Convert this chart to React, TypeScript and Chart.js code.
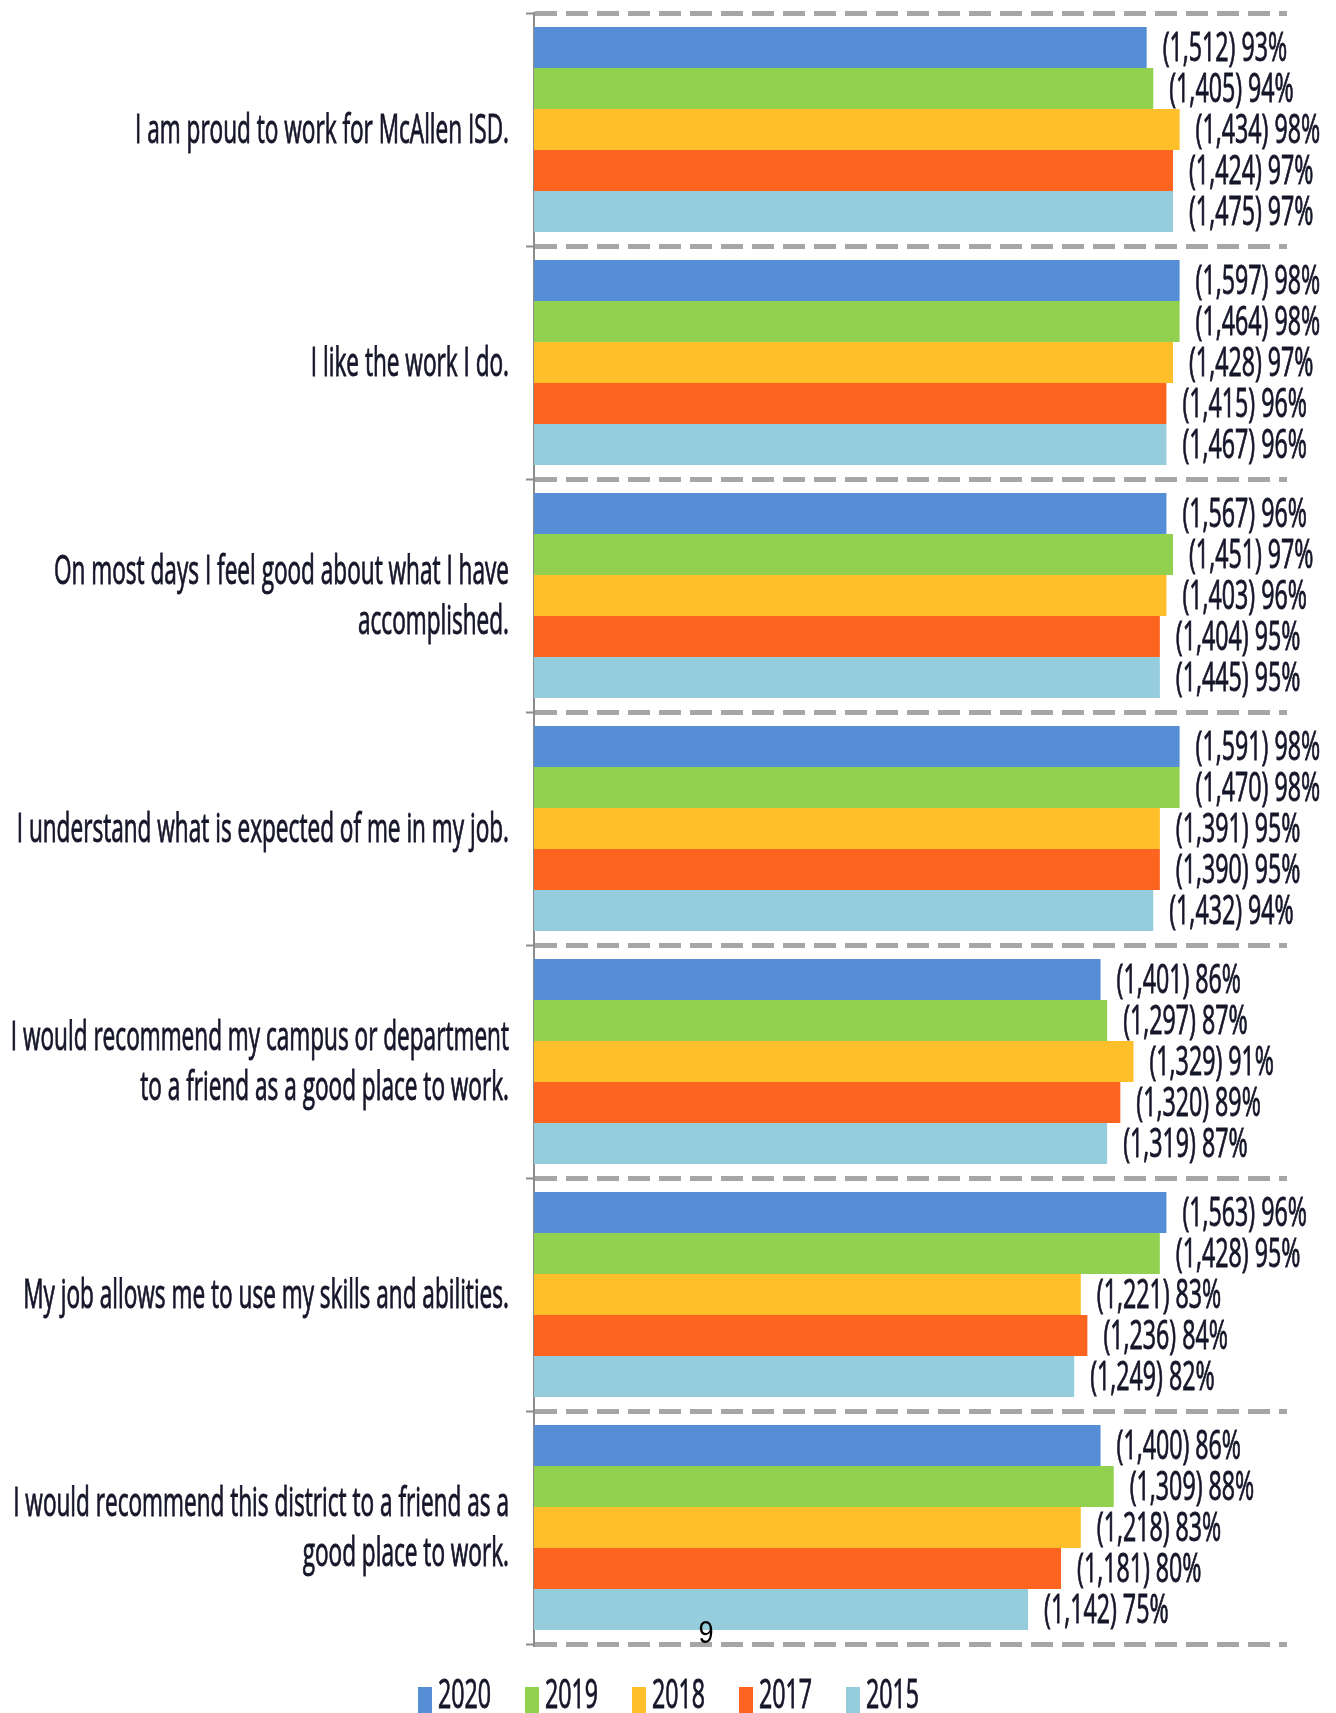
import React, { useEffect, useRef } from "react";
import { Chart, registerables } from "chart.js";
Chart.register(...registerables);

const categories: string[][] = [
  ["I am proud to work for McAllen ISD."],
  ["I like the work I do."],
  ["On most days I feel good about what I have", "accomplished."],
  ["I understand what is expected of me in my job."],
  ["I would recommend my campus or department", "to a friend as a good place to work."],
  ["My job allows me to use my skills and abilities."],
  ["I would recommend this district to a friend as a", "good place to work."],
];
const years = ["2020", "2019", "2018", "2017", "2015"];
const colors = ["#558ED5", "#92D050", "#FFBF2A", "#FD6420", "#95CDDC"];

const pct2020 = [93, 98, 96, 98, 86, 96, 86];
const n2020 = [1512, 1597, 1567, 1591, 1401, 1563, 1400];
const pct2019 = [94, 98, 97, 98, 87, 95, 88];
const n2019 = [1405, 1464, 1451, 1470, 1297, 1428, 1309];
const pct2018 = [98, 97, 96, 95, 91, 83, 83];
const n2018 = [1434, 1428, 1403, 1391, 1329, 1221, 1218];
const pct2017 = [97, 96, 95, 95, 89, 84, 80];
const n2017 = [1424, 1415, 1404, 1390, 1320, 1236, 1181];
const pct2015 = [97, 96, 95, 94, 87, 82, 75];
const n2015 = [1475, 1467, 1445, 1432, 1319, 1249, 1142];

const pctSeries = [pct2020, pct2019, pct2018, pct2017, pct2015];
const countSeries = [n2020, n2019, n2018, n2017, n2015];

const FONT = "40px 'Open Sans'";
const SX = 0.58;
const SX_CAT = 0.565;
const TEXT_COLOR = "#16162a";

function drawCondensed(ctx: CanvasRenderingContext2D, text: string, x: number, y: number, align: CanvasTextAlign, sx = SX, stroke = true) {
  ctx.save();
  ctx.translate(x, y);
  ctx.scale(sx, 1);
  ctx.textAlign = align;
  ctx.textBaseline = "middle";
  ctx.fillText(text, 0, 0);
  if (stroke) {
    ctx.strokeStyle = ctx.fillStyle as string;
    ctx.lineWidth = 0.9;
    ctx.strokeText(text, 0, 0);
  }
  ctx.restore();
}

const textPlugin = {
  id: "textPlugin",
  afterDatasetsDraw(chart: any) {
    const ctx: CanvasRenderingContext2D = chart.ctx;
    ctx.save();
    ctx.font = FONT;
    ctx.fillStyle = TEXT_COLOR;
    chart.data.datasets.forEach((ds: any, di: number) => {
      const meta = chart.getDatasetMeta(di);
      meta.data.forEach((el: any, i: number) => {
        const n = countSeries[di][i].toLocaleString("en-US");
        const p = pctSeries[di][i];
        drawCondensed(ctx, `(${n}) ${p}%`, el.x + 16, el.y + 2, "left");
      });
    });
    // category labels
    const yScale = chart.scales.y;
    categories.forEach((lines, i) => {
      const cy = yScale.getPixelForValue(i);
      const lh = 50;
      const start = cy - ((lines.length - 1) * lh) / 2;
      lines.forEach((line, li) => {
        drawCondensed(ctx, line, 509, start + li * lh + 2, "right", SX_CAT);
      });
    });
    // legend
    const legendY = 1697;
    years.forEach((y, i) => {
      const x0 = 418 + i * 107;
      ctx.fillStyle = colors[i];
      ctx.fillRect(x0, 1687, 14, 30);
      ctx.fillStyle = TEXT_COLOR;
      drawCondensed(ctx, y, x0 + 20, legendY, "left");
    });
    // page number
    ctx.font = "32px 'Liberation Sans'";
    ctx.fillStyle = "#000";
    drawCondensed(ctx, "9", 706, 1634, "center", 0.85, false);
    ctx.restore();
  },
};

export default function App() {
  const ref = useRef<HTMLCanvasElement>(null);
  useEffect(() => {
    if (!ref.current) return;
    const chart = new Chart(ref.current, {
      type: "bar",
      data: {
        labels: categories,
        datasets: years.map((y, i) => ({
          label: y,
          data: pctSeries[i],
          backgroundColor: colors[i],
          borderWidth: 0,
          categoryPercentage: 0.88,
          barPercentage: 1.0,
        })),
      },
      options: {
        indexAxis: "y",
        responsive: false,
        animation: false,
        layout: { padding: { left: 526, right: 49, top: 13, bottom: 69 } },
        scales: {
          x: { display: false, min: 0, max: 114.3 },
          y: {
            ticks: { display: false },
            grid: {
              offset: true,
              color: "#A6A6A6",
              lineWidth: 5,
              drawTicks: true,
              tickLength: 8,
              tickColor: "#8C8C8C",
              tickWidth: 2,
            },
            border: { display: true, color: "#8C8C8C", width: 2, dash: [22, 9] },
          },
        },
        plugins: { legend: { display: false }, tooltip: { enabled: false } },
      },
      plugins: [textPlugin],
    });
    return () => chart.destroy();
  }, []);
  return (
    <div style={{ position: "absolute", left: 0, top: 0, width: 1336, height: 1713, background: "#fff" }}>
      <canvas ref={ref} width={1336} height={1713} style={{ display: "block" }} />
    </div>
  );
}
